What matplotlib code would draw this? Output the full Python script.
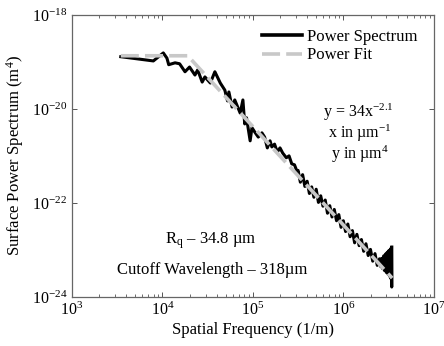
import matplotlib
matplotlib.use('Agg')
import matplotlib.pyplot as plt
import numpy as np

plt.rcParams.update({
    'font.family': 'serif',
    'font.serif': ['Liberation Serif'],
    'mathtext.fontset': 'custom',
    'mathtext.rm': 'Liberation Serif',
    'mathtext.it': 'Liberation Serif:italic',
    'mathtext.bf': 'Liberation Serif:bold',
    'font.size': 12,
})

# power spectrum (log10 of frequency in 1/m, log10 of PSD in m^4)
LOG_FREQ = [
    3.54, 3.90, 4.01, 4.05, 4.07, 4.14, 4.19, 4.25, 4.30, 4.36, 4.39, 4.44,
    4.47, 4.53, 4.58, 4.64, 4.69, 4.72, 4.735, 4.77, 4.80, 4.86, 4.89, 4.91,
    4.93, 4.97, 4.99, 5.02, 5.06, 5.10, 5.13, 5.16, 5.19, 5.21, 5.24, 5.27,
    5.30, 5.33, 5.37, 5.40, 5.43, 5.46, 5.49,
    5.500, 5.525, 5.550, 5.575, 5.600, 5.625, 5.650, 5.675, 5.700, 5.725,
    5.750, 5.775, 5.800, 5.825, 5.850, 5.875, 5.900, 5.925, 5.950, 5.975,
    6.000, 6.025, 6.050, 6.075, 6.100, 6.125, 6.150, 6.175, 6.200, 6.225,
    6.250, 6.275, 6.300, 6.325, 6.350, 6.375, 6.400,
    6.415, 6.425, 6.435, 6.445, 6.455, 6.465, 6.475, 6.485, 6.495, 6.505,
    6.515, 6.522, 6.528, 6.532, 6.535, 6.536,
]
LOG_PSD = [
    -18.89, -18.98, -18.81, -18.92, -19.06, -19.02, -19.04, -19.21, -19.11,
    -19.28, -19.17, -19.43, -19.32, -19.45, -19.21, -19.45, -19.60, -19.83,
    -19.64, -19.96, -19.81, -20.09, -19.81, -20.32, -20.19, -20.68, -20.40,
    -20.49, -20.60, -20.51, -20.60, -20.83, -20.68, -20.81, -20.75, -20.92,
    -20.83, -20.94, -21.04, -21.00, -21.17, -21.19, -21.34,
    -21.31, -21.56, -21.40, -21.65, -21.54, -21.80, -21.66, -21.88, -21.71,
    -21.99, -21.85, -22.07, -21.94, -22.22, -22.06, -22.30, -22.14, -22.38,
    -22.25, -22.52, -22.38, -22.61, -22.45, -22.72, -22.59, -22.85, -22.67,
    -22.91, -22.78, -23.03, -22.87, -23.12, -22.99, -23.24, -23.08, -23.33,
    -23.19,
    -23.36, -23.18, -23.40, -23.13, -23.44, -23.09, -23.48, -23.05, -23.52,
    -23.01, -23.57, -22.98, -23.62, -22.95, -23.79, -22.94,
]

# power fit line (flat plateau, then y = 34 x^-2.1 in um units)
FIT_LOG_FREQ = [3.54, 4.28, 6.54]
FIT_LOG_PSD = [-18.87, -18.87, -23.60]

freq = 10.0 ** np.array(LOG_FREQ)
psd = 10.0 ** np.array(LOG_PSD)
fit_freq = 10.0 ** np.array(FIT_LOG_FREQ)
fit_psd = 10.0 ** np.array(FIT_LOG_PSD)

fig = plt.figure(figsize=(4.44, 3.46), dpi=100)
ax = fig.add_axes([0.162, 0.142, 0.815, 0.815])

ax.plot(freq, psd, color='black', linewidth=2.2, label='Power Spectrum', zorder=2)
ax.plot(fit_freq, fit_psd, color='#c8c8c8', linewidth=2.6, dashes=(5.0, 1.7),
        label='Power Fit', zorder=3)

ax.set_xscale('log')
ax.set_yscale('log')
ax.set_xlim(1e3, 1e7)
ax.set_ylim(1e-24, 1e-18)
ax.set_xticks([1e3, 1e4, 1e5, 1e6, 1e7])
ax.set_yticks([1e-24, 1e-22, 1e-20, 1e-18])
ax.yaxis.set_minor_locator(matplotlib.ticker.NullLocator())
ax.tick_params(which='both', direction='in', top=True, right=True,
               color='#555555', labelsize=11.5)
ax.tick_params(which='major', length=3.5, width=0.7)
ax.tick_params(which='minor', length=2, width=0.6)
for sp in ax.spines.values():
    sp.set_color('#666666')
    sp.set_linewidth(0.9)

ax.set_xlabel('Spatial Frequency (1/m)', fontsize=12, labelpad=2)
ax.set_ylabel('Surface Power Spectrum (m$^4$)', fontsize=12, labelpad=4)

leg = ax.legend(loc='upper left', bbox_to_anchor=(0.525, 0.95), frameon=False,
                borderpad=0, borderaxespad=0, handlelength=2.4,
                handletextpad=0.3, labelspacing=0.15, fontsize=12)
for line in leg.get_lines():
    line.set_linewidth(2.6)

ax.text(0.793, 0.655, 'y = 34x$^{-2.1}$', transform=ax.transAxes,
        ha='center', va='center', fontsize=11.5)
ax.text(0.796, 0.580, 'x in \u00b5m$^{-1}$', transform=ax.transAxes,
        ha='center', va='center', fontsize=11.5)
ax.text(0.796, 0.505, 'y in \u00b5m$^{4}$', transform=ax.transAxes,
        ha='center', va='center', fontsize=11.5)
ax.text(0.384, 0.199, '$\\mathrm{R}_\\mathrm{q}$ \u2013 34.8 \u00b5m', transform=ax.transAxes,
        ha='center', va='center', fontsize=12)
ax.text(0.387, 0.096, 'Cutoff Wavelength \u2013 318\u00b5m', transform=ax.transAxes,
        ha='center', va='center', fontsize=12)

fig.savefig('out.png', dpi=100)
